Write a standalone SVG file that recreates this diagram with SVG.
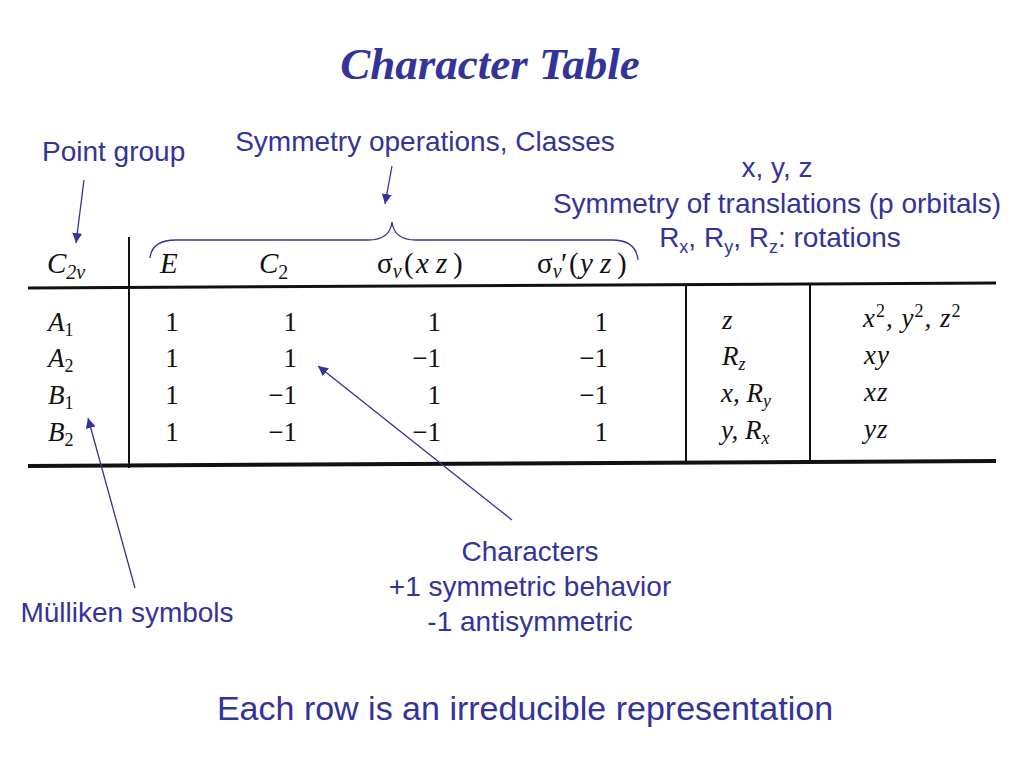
<svg xmlns="http://www.w3.org/2000/svg" width="1024" height="768" viewBox="0 0 1024 768">
<style>
.lbl{font-family:"Liberation Sans",Arial,sans-serif;font-size:28px;fill:#333399}
.big{font-size:34px}
.ttl{font-family:"Liberation Serif","Times New Roman",serif;font-size:45px;font-weight:bold;font-style:italic;fill:#333399}
.tb{font-family:"Liberation Serif","Times New Roman",serif;font-size:27px;fill:#111}
.hd{font-family:"Liberation Serif","Times New Roman",serif;font-size:29px;fill:#111}
.it{font-style:italic}
.sub{font-size:18px}
.rule{stroke:#111;fill:none}
.conn{stroke:#333399;stroke-width:1.3;fill:none}
</style>
<defs>
<marker id="ah" markerUnits="userSpaceOnUse" markerWidth="12" markerHeight="10" refX="10" refY="5" orient="auto">
<path d="M0,0 L10,5 L0,10 Z" fill="#333399"/>
</marker>
</defs>
<rect width="1024" height="768" fill="#fff"/>

<g id="title"><text class="ttl" x="490" y="79" text-anchor="middle">Character Table</text></g>

<g id="table">
<line class="rule" x1="28" y1="288" x2="996" y2="283" stroke-width="3"/>
<line class="rule" x1="28" y1="466" x2="996" y2="461" stroke-width="4"/>
<line class="rule" x1="129" y1="237" x2="129" y2="468" stroke-width="2"/>
<line class="rule" x1="686" y1="284" x2="686" y2="463" stroke-width="2"/>
<line class="rule" x1="810" y1="283" x2="810" y2="462" stroke-width="2"/>

<g id="header">
<text class="hd it" x="47" y="273">C<tspan style="font-size:20px" dy="6">2v</tspan></text>
<text class="hd it" x="160" y="273">E</text>
<text class="hd it" x="259" y="273">C<tspan style="font-size:20px;font-style:normal" dy="6">2</tspan></text>
<text class="hd" x="377" y="273">σ<tspan style="font-size:20px;font-style:italic" dy="5">v</tspan><tspan x="404" dy="-5">(</tspan><tspan x="416" style="font-style:italic">x</tspan><tspan x="436" style="font-style:italic">z</tspan><tspan x="453">)</tspan></text>
<text class="hd" x="537" y="273">σ<tspan style="font-size:20px;font-style:italic" dy="5">v</tspan><tspan x="561" dy="-5">′</tspan><tspan x="569">(</tspan><tspan x="580" style="font-style:italic">y</tspan><tspan x="600" style="font-style:italic">z</tspan><tspan x="617">)</tspan></text>
</g>

<g id="row-labels">
<text class="tb it" x="48" y="331">A<tspan class="sub" style="font-style:normal" dy="5">1</tspan></text>
<text class="tb it" x="48" y="367">A<tspan class="sub" style="font-style:normal" dy="5">2</tspan></text>
<text class="tb it" x="48" y="404">B<tspan class="sub" style="font-style:normal" dy="5">1</tspan></text>
<text class="tb it" x="48" y="441">B<tspan class="sub" style="font-style:normal" dy="5">2</tspan></text>
</g>

<g id="characters">
<text class="tb" x="172" y="331" text-anchor="middle">1</text>
<text class="tb" x="172" y="367" text-anchor="middle">1</text>
<text class="tb" x="172" y="404" text-anchor="middle">1</text>
<text class="tb" x="172" y="441" text-anchor="middle">1</text>
<text class="tb" x="297" y="331" text-anchor="end">1</text>
<text class="tb" x="297" y="367" text-anchor="end">1</text>
<text class="tb" x="297" y="404" text-anchor="end">−1</text>
<text class="tb" x="297" y="441" text-anchor="end">−1</text>
<text class="tb" x="441" y="331" text-anchor="end">1</text>
<text class="tb" x="441" y="367" text-anchor="end">−1</text>
<text class="tb" x="441" y="404" text-anchor="end">1</text>
<text class="tb" x="441" y="441" text-anchor="end">−1</text>
<text class="tb" x="608" y="331" text-anchor="end">1</text>
<text class="tb" x="608" y="367" text-anchor="end">−1</text>
<text class="tb" x="608" y="404" text-anchor="end">−1</text>
<text class="tb" x="608" y="441" text-anchor="end">1</text>
</g>

<g id="translations">
<text class="tb it" x="722" y="329">z</text>
<text class="tb it" x="722" y="365">R<tspan class="sub" dy="5">z</tspan></text>
<text class="tb it" x="721" y="402">x, R<tspan class="sub" dy="5">y</tspan></text>
<text class="tb it" x="721" y="439">y, R<tspan class="sub" dy="5">x</tspan></text>
</g>

<g id="quadratic">
<text class="tb it" x="863" y="327" style="letter-spacing:1px">x<tspan class="sub" style="font-style:normal" dy="-10">2</tspan><tspan dy="10">, y</tspan><tspan class="sub" style="font-style:normal" dy="-10">2</tspan><tspan dy="10">, z</tspan><tspan class="sub" style="font-style:normal" dy="-10">2</tspan></text>
<text class="tb it" x="864" y="364" style="letter-spacing:1px">xy</text>
<text class="tb it" x="864" y="401" style="letter-spacing:1px">xz</text>
<text class="tb it" x="864" y="438" style="letter-spacing:1px">yz</text>
</g>
</g>

<g id="point-group"><text class="lbl" x="42" y="161">Point group</text></g>
<g id="symmetry-operations"><text class="lbl" x="425" y="151" text-anchor="middle">Symmetry operations, Classes</text></g>
<g id="translations-label">
<text class="lbl" x="777" y="177" text-anchor="middle">x, y, z</text>
<text class="lbl" x="777" y="213" text-anchor="middle">Symmetry of translations (p orbitals)</text>
<text class="lbl" x="780" y="247" text-anchor="middle">R<tspan style="font-size:18px" dy="6">x</tspan><tspan dy="-6">, R</tspan><tspan style="font-size:18px" dy="6">y</tspan><tspan dy="-6">, R</tspan><tspan style="font-size:18px" dy="6">z</tspan><tspan dy="-6">: rotations</tspan></text>
</g>
<g id="mulliken"><text class="lbl" x="127" y="622" text-anchor="middle">Mülliken symbols</text></g>
<g id="characters-label">
<text class="lbl" x="530" y="561" text-anchor="middle">Characters</text>
<text class="lbl" x="530" y="596" text-anchor="middle">+1 symmetric behavior</text>
<text class="lbl" x="530" y="631" text-anchor="middle">-1 antisymmetric</text>
</g>
<g id="footer"><text class="lbl big" x="525" y="720" text-anchor="middle">Each row is an irreducible representation</text></g>

<g id="connectors">
<path class="conn" d="M150,258 Q152,240 176,240 L368,240 Q390,240 392,222 Q394,240 416,240 L612,240 Q636,240 638,260"/>
<line class="conn" x1="84" y1="180" x2="76" y2="243" marker-end="url(#ah)"/>
<line class="conn" x1="392" y1="166" x2="385" y2="204" marker-end="url(#ah)"/>
<line class="conn" x1="135" y1="588" x2="88" y2="418" marker-end="url(#ah)"/>
<line class="conn" x1="512" y1="520" x2="318" y2="366" marker-end="url(#ah)"/>
</g>
</svg>
